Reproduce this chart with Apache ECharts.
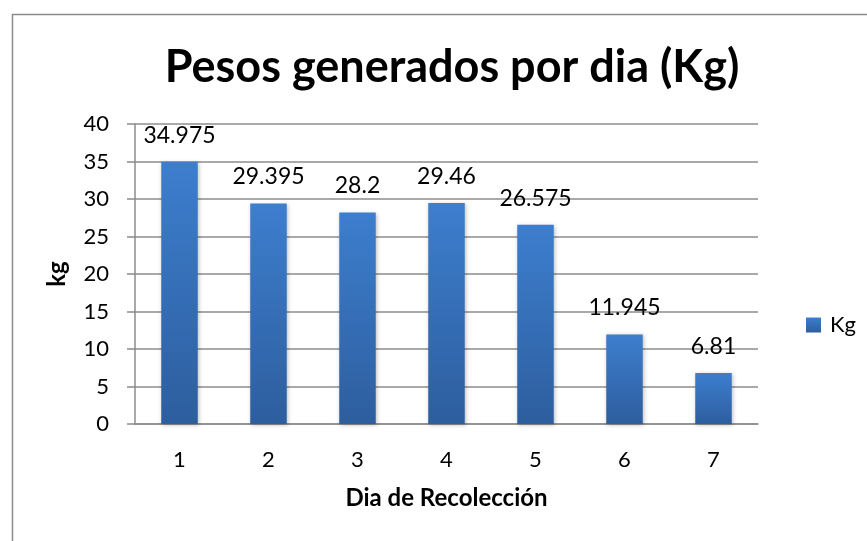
<!DOCTYPE html>
<html>
<head>
<meta charset="utf-8">
<script src="https://cdn.jsdelivr.net/npm/echarts@6/dist/echarts.min.js"></script>
<style>html,body{margin:0;padding:0;background:#fff}#c{width:867px;height:541px}</style>
</head>
<body>
<div id="c"></div>
<script>
const categories = ['1', '2', '3', '4', '5', '6', '7'];
const kgValues = [34.975, 29.395, 28.2, 29.46, 26.575, 11.945, 6.81];
const yTicks = [0, 5, 10, 15, 20, 25, 30, 35, 40];
const titleText = 'Pesos generados por dia (Kg)';
const seriesName = 'Kg';
const xTitle = 'Dia de Recolección';
const yTitle = 'kg';

const FONT = 'Lato, "Open Sans", sans-serif';
const chart = echarts.init(document.getElementById('c'), null, {renderer: 'canvas'});
const grad = new echarts.graphic.LinearGradient(0, 0, 0, 1, [
  {offset: 0, color: '#3d7ece'},
  {offset: 1, color: '#2d5e9e'}
]);
chart.setOption({
  animation: false,
  backgroundColor: '#fff',
  graphic: [{
    type: 'rect', left: 10, top: 12, z: -10,
    shape: {width: 856, height: 560},
    style: {fill: 'none', stroke: '#8c8c8c', lineWidth: 1.5}
  }],
  title: {
    text: titleText, left: 447, top: 40, textAlign: 'center',
    textStyle: {fontFamily: FONT, fontWeight: 'bold', fontSize: 45, color: '#000'}
  },
  legend: {
    data: [seriesName], left: 801, top: 309, itemWidth: 15, itemHeight: 15, itemGap: 8,
    icon: 'rect',
    textStyle: {fontFamily: FONT, fontSize: 22, color: '#000', padding: [0, 0, 0, 4]}
  },
  grid: {left: 135, right: 109, top: 124, bottom: 117, containLabel: false},
  xAxis: {
    type: 'category', data: categories,
    name: xTitle, nameLocation: 'middle', nameGap: 62,
    nameTextStyle: {fontFamily: FONT, fontWeight: 'bold', fontSize: 24, color: '#000'},
    axisLine: {show: true, lineStyle: {color: '#8c8c8c', width: 1.5}},
    axisTick: {show: false},
    axisLabel: {fontFamily: FONT, fontSize: 22, color: '#000', margin: 25}
  },
  yAxis: {
    type: 'value', min: yTicks[0], max: yTicks[yTicks.length - 1], interval: 5,
    name: yTitle, nameLocation: 'middle', nameGap: 66, nameRotate: 90,
    nameTextStyle: {fontFamily: FONT, fontWeight: 'bold', fontSize: 24, color: '#000'},
    axisLine: {show: true, lineStyle: {color: '#8c8c8c', width: 1.5}},
    axisTick: {show: true, length: 8, inside: false, lineStyle: {color: '#8c8c8c', width: 1.5}},
    splitLine: {show: true, lineStyle: {color: '#8c8c8c', width: 1.5}},
    axisLabel: {fontFamily: FONT, fontSize: 22, color: '#000', margin: 26}
  },
  series: [{
    name: seriesName, type: 'bar', data: kgValues, barWidth: '41%',
    itemStyle: {color: grad, shadowColor: 'rgba(0,0,0,0.25)', shadowBlur: 4, shadowOffsetX: 1, shadowOffsetY: 1},
    label: {show: true, position: 'top', distance: 15, fontFamily: FONT, fontSize: 23, color: '#000'}
  }]
});
</script>
</body>
</html>
